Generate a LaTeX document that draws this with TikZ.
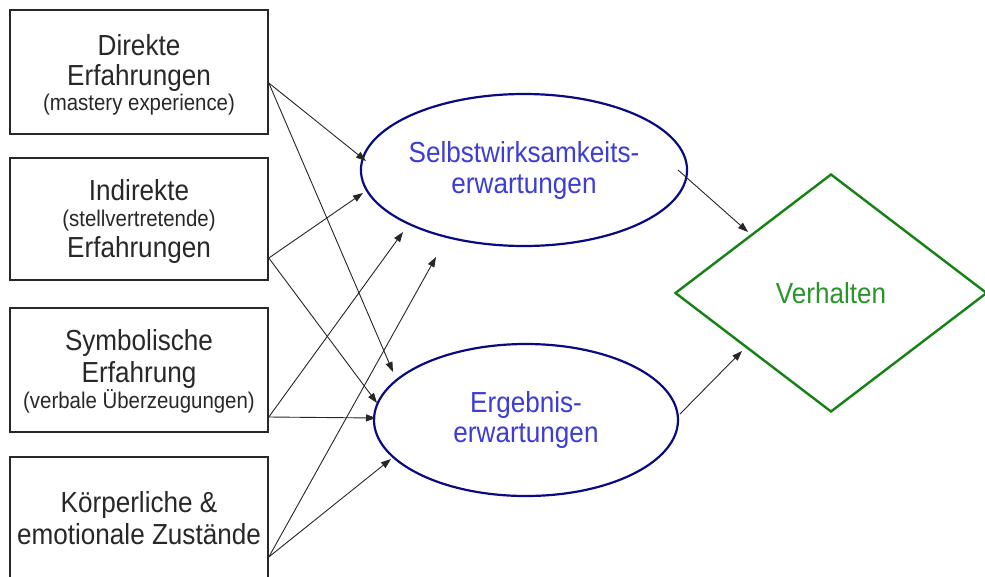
\documentclass[tikz,border=0pt]{standalone}
\usepackage{fontspec}
\setmainfont{Liberation Sans}[FakeStretch=0.9]
\usetikzlibrary{arrows.meta,shapes.geometric}
\definecolor{txtgray}{RGB}{40,40,40}
\definecolor{ellblue}{RGB}{10,10,130}
\definecolor{ellTxt}{RGB}{60,60,215}
\definecolor{dgreen}{RGB}{20,130,20}
\definecolor{gTxt}{RGB}{40,150,40}
\newcommand\bigtxt{\fontsize{29}{31}\selectfont}
\newcommand\smalltxt{\fontsize{22.7}{25}\selectfont}
\begin{document}
\begin{tikzpicture}[x=1pt,y=-1pt,
  srcbox/.style={draw=txtgray,line width=1.6pt,minimum width=258pt,inner sep=0pt},
  srctext/.style={align=center,text=txtgray,font=\bigtxt,inner sep=0pt},
  ellnode/.style={ellipse,draw=ellblue,line width=2.2pt,minimum width=304pt,
    minimum height=152pt,inner sep=0pt,align=center,text=ellTxt,font=\bigtxt},
  dianode/.style={diamond,draw=dgreen,line width=2.4pt,minimum width=312pt,
    minimum height=238pt,inner sep=0pt,text=gTxt,font=\bigtxt},
  conn/.style={draw=black!85,line width=0.9pt,-{Triangle[length=10pt,width=7pt]}}]
\useasboundingbox (0,0) rectangle (985,576);
\clip (0,0) rectangle (985,576);
\fill[white] (0,0) rectangle (985,576);
% source boxes
\node[srcbox,minimum height=124pt] (b1) at (139,72) {};
\node[srcbox,minimum height=122pt] (b2) at (139,219) {};
\node[srcbox,minimum height=124pt] (b3) at (139,370) {};
\node[srcbox,minimum height=126pt] (b4) at (139,520) {};
\node[srctext] (b1t) at ([yshift=-2.5pt]b1.center)
  {Direkte\\[-1pt]Erfahrungen\\[-6pt]{\smalltxt(mastery experience)}};
\node[srctext] (b2t) at ([yshift=-2pt]b2.center)
  {Indirekte\\[-5pt]{\smalltxt(stellvertretende)}\\[0pt]Erfahrungen};
\node[srctext] (b3t) at ([yshift=-1pt]b3.center)
  {Symbolische\\[1pt]Erfahrung\\[-5pt]{\smalltxt(verbale Überzeugungen)}};
\node[srctext] (b4t) at ([yshift=1.5pt]b4.center)
  {Körperliche \&\\[1pt]emotionale Zustände};
% expectation ellipses
\node[ellnode] (e1) at (524,170) {Selbstwirksamkeits-\\[0pt]erwartungen};
\node[ellnode] (e2) at (526,420) {Ergebnis-\\[-1pt]erwartungen};
% behaviour diamond
\node[dianode] (v) at (831,293) {Verhalten};
% connector start points on the boxes
\coordinate (s1) at ([yshift=-11pt]b1.east);
\coordinate (s2) at ([yshift=-39pt]b2.east);
\coordinate (s3) at ([yshift=-47pt]b3.east);
\coordinate (s4) at ([yshift=-37pt]b4.east);
% connector end points
\coordinate (t11) at (366,161);
\coordinate (t12) at (393,372);
\coordinate (t21) at (363,193);
\coordinate (t22) at (377,403);
\coordinate (t31) at (403,232);
\coordinate (t32) at (376,418);
\coordinate (t41) at (436,257);
\coordinate (t42) at (391,459);
\coordinate (u1) at (678,170);
\coordinate (u2) at (680,414);
\coordinate (w1) at (748,232);
\coordinate (w2) at (742,351);
\draw[conn] (s1) -- (t11);
\draw[conn] (s1) -- (t12);
\draw[conn] (s2) -- (t21);
\draw[conn] (s2) -- (t22);
\draw[conn] (s3) -- (t31);
\draw[conn] (s3) -- (t32);
\draw[conn] (s4) -- (t41);
\draw[conn] (s4) -- (t42);
\draw[conn] (u1) -- (w1);
\draw[conn] (u2) -- (w2);
\end{tikzpicture}
\end{document}
